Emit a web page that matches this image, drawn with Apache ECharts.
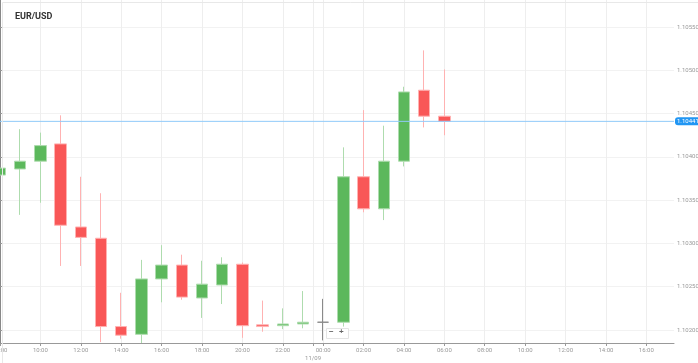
<!DOCTYPE html>
<html>
<head>
<meta charset="utf-8">
<script src="https://cdn.jsdelivr.net/npm/echarts@6/dist/echarts.min.js"></script>
<style>
html,body{margin:0;padding:0;background:#fff;}
#chart{width:698px;height:363px;}
</style>
</head>
<body>
<div id="chart"></div>
<script>
// Hourly candles, 08:00 (11/08) through 06:00 (11/09)
const hours = ['08:00','09:00','10:00','11:00','12:00','13:00','14:00','15:00','16:00','17:00','18:00','19:00','20:00','21:00','22:00','23:00','00:00','01:00','02:00','03:00','04:00','05:00','06:00'];
const openVals  = [1.10379,1.10386,1.10395,1.10415,1.10319,1.10306,1.10204,1.10195,1.10259,1.10275,1.10237,1.10252,1.10276,1.10206,1.10205,1.10207,1.10209,1.10209,1.10377,1.10340,1.10395,1.10477,1.10447];
const closeVals = [1.10387,1.10395,1.10413,1.10321,1.10307,1.10204,1.10194,1.10259,1.10275,1.10238,1.10253,1.10276,1.10205,1.10204,1.10207,1.10209,1.10209,1.10377,1.10340,1.10395,1.10475,1.10447,1.10441];
const lowVals   = [1.10378,1.10333,1.10347,1.10274,1.10274,1.10186,1.10190,1.10185,1.10232,1.10235,1.10214,1.10230,1.10191,1.10198,1.10201,1.10202,1.10188,1.10204,1.10336,1.10327,1.10389,1.10434,1.10425];
const highVals  = [1.10388,1.10432,1.10428,1.10448,1.10377,1.10358,1.10243,1.10281,1.10298,1.10287,1.10280,1.10284,1.10278,1.10234,1.10225,1.10245,1.10236,1.10411,1.10454,1.10436,1.10481,1.10523,1.10501];
const lastPrice = 1.10441;
const yTicks = [1.10200,1.10250,1.10300,1.10350,1.10400,1.10450,1.10500,1.10550];
const xTickHours = [0,2,4,6,8,10,12,14,16,18,20,22,24,26,28,30,32];
const dayBreak = 15.5;
const dayLabel = '11/09';

const candleData = hours.map((h, i) => [i, openVals[i], closeVals[i], lowVals[i], highVals[i]]);
const xCustom = xTickHours.concat([dayBreak]).sort((a,b)=>a-b);
const X_MAX = 33.37;

const chart = echarts.init(document.getElementById('chart'), null, {renderer:'canvas'});
chart.setOption({
  animation: false,
  backgroundColor: '#fff',
  title: {
    text: 'EUR/USD', left: 10, top: 7,
    textStyle: {fontSize: 9, fontWeight: 'bold', color: '#333', fontFamily: 'Roboto'}
  },
  grid: {left: 0, right: 24, top: 0, bottom: 20, containLabel: false, outerBoundsMode: 'none'},
  xAxis: {
    type: 'value', min: 0, max: X_MAX,
    axisLine: {show: true, lineStyle: {color: '#999'}},
    axisTick: {show: true, length: 3, customValues: xCustom, lineStyle: {color: '#999'}},
    axisLabel: {
      customValues: xCustom, fontSize: 6, color: '#999', margin: 3, fontFamily: 'Roboto',
      lineHeight: 8, hideOverlap: false,
      formatter: function (v) {
        if (Math.abs(v - dayBreak) < 1e-6) return '\n' + dayLabel;
        const h = (8 + Math.round(v)) % 24;
        return (h < 10 ? '0' : '') + h + ':00';
      }
    },
    splitLine: {show: true, lineStyle: {color: '#eeeeee', width: 1}}
  },
  yAxis: {
    type: 'value', position: 'right', min: 1.10185, max: 1.105812, scale: true,
    axisLine: {show: true, lineStyle: {color: '#888'}},
    axisTick: {show: true, length: 2, customValues: yTicks, lineStyle: {color: '#999'}},
    axisLabel: {
      customValues: yTicks, fontSize: 6, color: '#999', margin: 3, fontFamily: 'Roboto',
      formatter: v => v.toFixed(5)
    },
    splitLine: {show: true, lineStyle: {color: '#f2f2f2', width: 1}}
  },
  series: [{
    type: 'candlestick',
    data: candleData,
    encode: {x: 0, y: [1, 2, 3, 4]},
    barWidth: 12,
    clip: true,
    z: 3,
    itemStyle: {
      color: '#5cb85c', color0: '#f95757',
      borderColor: '#aedcae', borderColor0: '#ffb2b2',
      borderColorDoji: '#8a8a8a',
      borderWidth: 1
    }
  }, {
    type: 'line',
    data: [[0, lastPrice], [X_MAX, lastPrice]],
    showSymbol: false,
    symbol: 'none',
    silent: true,
    z: 4,
    lineStyle: {color: '#90caf9', width: 1},
    endLabel: {
      show: true, distance: 1,
      formatter: () => lastPrice.toFixed(5),
      color: '#fff', backgroundColor: '#2196f3', fontSize: 6, padding: [1, 2],
      borderRadius: 3, fontFamily: 'Roboto'
    }
  }],
  graphic: [
    {type: 'rect', left: 0, top: 0, shape: {width: 697, height: 362}, style: {fill: 'none', stroke: '#e8e8e8', lineWidth: 1}, silent: true, z: 100},
    {type: 'rect', left: 326, top: 328, shape: {width: 22, height: 10}, style: {fill: '#fff', stroke: '#e4e4e4', lineWidth: 1}, silent: true, z: 100},
    {type: 'text', left: 329, top: 328, style: {text: '−', fontSize: 8, fill: '#666', fontWeight: 'bold'}, silent: true, z: 101},
    {type: 'text', left: 339, top: 328, style: {text: '+', fontSize: 8, fill: '#666', fontWeight: 'bold'}, silent: true, z: 101}
  ]
});
</script>
</body>
</html>
